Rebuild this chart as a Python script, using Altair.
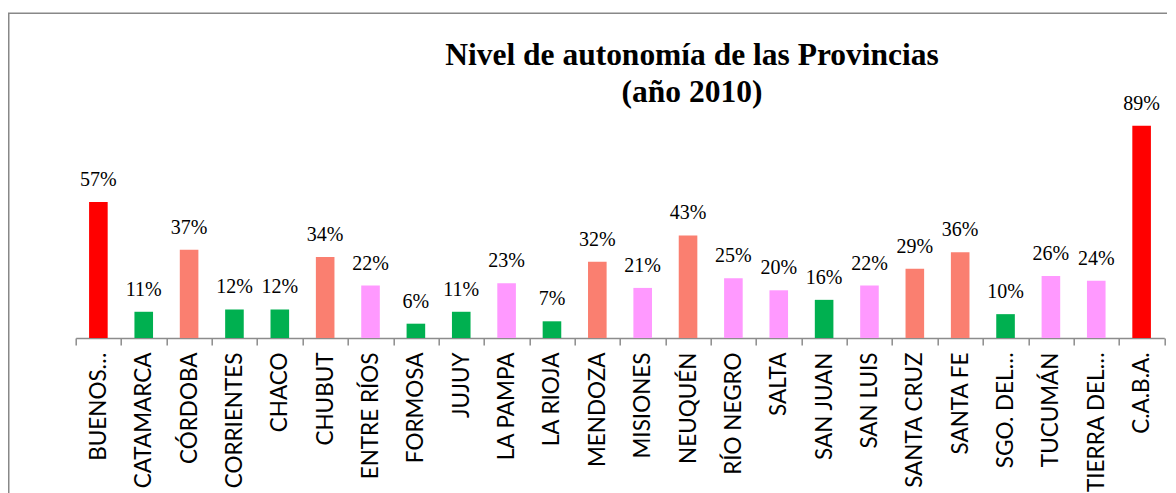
import altair as alt
import pandas as pd

# ---- data ----
provincias = ["BUENOS…", "CATAMARCA", "CÓRDOBA", "CORRIENTES", "CHACO", "CHUBUT",
              "ENTRE RÍOS", "FORMOSA", "JUJUY", "LA PAMPA", "LA RIOJA", "MENDOZA",
              "MISIONES", "NEUQUÉN", "RÍO NEGRO", "SALTA", "SAN JUAN", "SAN LUIS",
              "SANTA CRUZ", "SANTA FE", "SGO. DEL…", "TUCUMÁN", "TIERRA DEL…", "C.A.B.A."]
autonomia = [0.57, 0.11, 0.37, 0.12, 0.12, 0.34, 0.22, 0.06, 0.11, 0.23, 0.07, 0.32,
             0.21, 0.43, 0.25, 0.20, 0.16, 0.22, 0.29, 0.36, 0.10, 0.26, 0.24, 0.89]
nivel = ["Muy alta", "Baja", "Alta", "Baja", "Baja", "Alta", "Media", "Baja", "Baja",
         "Media", "Baja", "Alta", "Media", "Alta", "Media", "Media", "Baja", "Media",
         "Alta", "Alta", "Baja", "Media", "Media", "Muy alta"]
niveles = ["Muy alta", "Alta", "Media", "Baja"]
colores = ["#FF0000", "#FA7F70", "#FF99FF", "#00B050"]

df = pd.DataFrame({"provincia": provincias, "valor": autonomia, "nivel": nivel})

W, H = 1088.6, 238.5
PAD_L, PAD_T = 67.7, 91.5
SERIF = "Liberation Serif"
SANS = "Lato"

x = alt.X("provincia:N", sort=None, title=None,
          scale=alt.Scale(paddingInner=0, paddingOuter=0),
          axis=alt.Axis(labelAngle=-90, labelFont=SANS, labelFontSize=22.5,
                        labelColor="black", labelPadding=7, labelLimit=0,
                        tickBand="extent", tickSize=7, tickColor="#8C8C8C",
                        tickWidth=1.5, domainColor="#8C8C8C", domainWidth=1.5))
y = alt.Y("valor:Q", scale=alt.Scale(domain=[0, 1]), axis=None)

bars = alt.Chart(df).mark_bar(width=alt.RelativeBandSize(0.41)).encode(
    x=x, y=y,
    color=alt.Color("nivel:N", scale=alt.Scale(domain=niveles, range=colores), legend=None),
)
labels = alt.Chart(df).mark_text(font=SERIF, fontSize=20, baseline="alphabetic",
                                 dy=-16, color="black").encode(
    x=x, y=y, text=alt.Text("valor:Q", format=".0%"))

frame = alt.Chart(pd.DataFrame({"k": [0]})).mark_rect(
    fill=None, stroke="#888888", strokeWidth=1.5).encode(
    x=alt.value(-PAD_L + 0.75), x2=alt.value(W + 200),
    y=alt.value(-86.2), y2=alt.value(H + 400))

chart = alt.layer(frame, bars, labels).properties(
    width=W, height=H,
    title=alt.Title(["Nivel de autonomía de las Provincias", "(año 2010)"],
                    font=SERIF, fontSize=31.5, fontWeight="bold", color="black",
                    anchor="middle", frame="group", dx=72, dy=100, lineHeight=37),
    autosize=alt.AutoSizeParams(type="none"),
    padding={"left": PAD_L, "top": PAD_T, "right": 3, "bottom": 155},
).configure_view(stroke=None)

chart.save("out.html", embed_options={"renderer": "svg", "actions": False})
